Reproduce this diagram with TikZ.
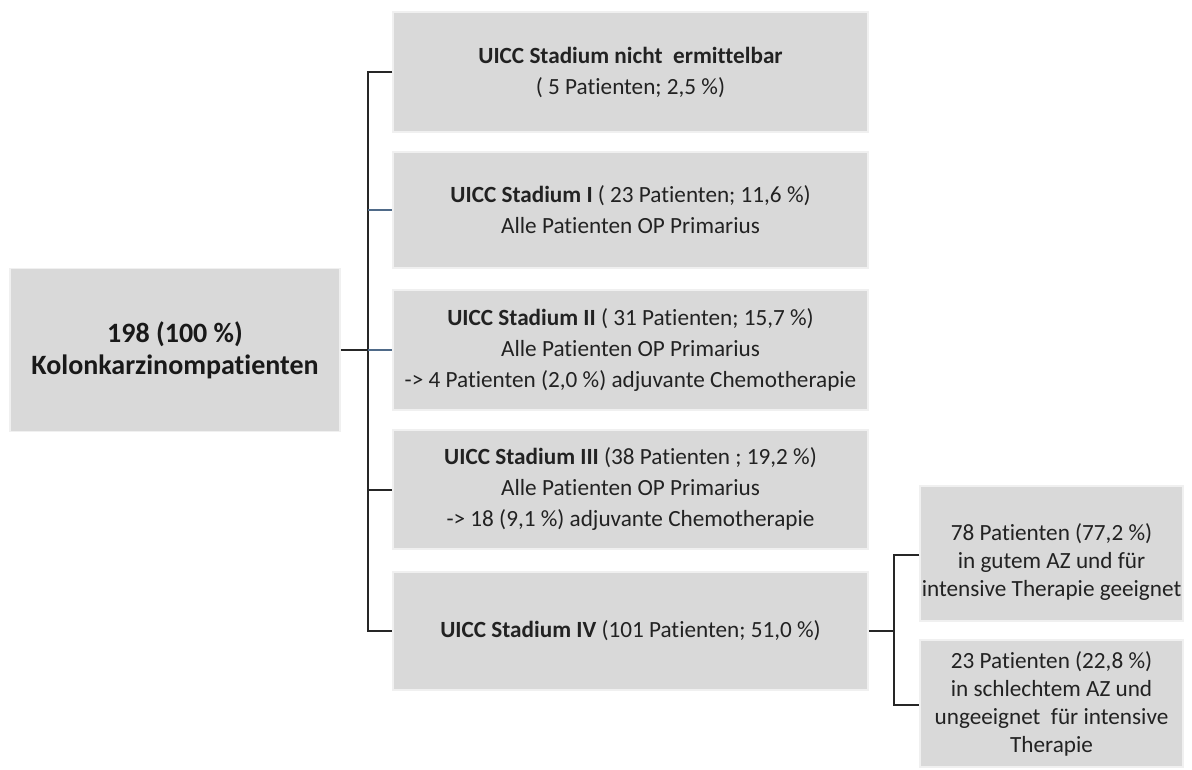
\documentclass[tikz,border=0pt]{standalone}
\usepackage{fontspec}
\setmainfont{Carlito}[Ligatures=CommonOff]
\definecolor{boxgray}{HTML}{D9D9D9}
\definecolor{boxedge}{HTML}{F0F0F0}
\definecolor{bluegray}{HTML}{4F6A88}
\definecolor{txt}{HTML}{222222}
\begin{document}
\begin{tikzpicture}[x=1pt,y=-1pt,
  box/.style={fill=boxgray, draw=boxedge, line width=1.5pt, align=center, inner sep=0pt, text=txt,
    font=\fontsize{23.2}{31}\selectfont},
  stagebox/.style={box, minimum width=475pt},
  subbox/.style={box, minimum width=263pt, font=\fontsize{23.2}{28}\selectfont},
  conn/.style={line width=2pt, black!85},
  bconn/.style={line width=1.5pt, bluegray}]
\useasboundingbox (0,0) rectangle (1192,770);

\node[box, minimum width=330pt, minimum height=163pt, font=\bfseries\fontsize{28}{32}\selectfont, text=black!90] (root) at (175,350) {198 (100 \%)\\Kolonkarzinompatienten};

\node[stagebox, minimum height=120pt] (b1) at (630.5,72) {\textbf{UICC Stadium nicht~ ermittelbar}\\( 5 Patienten; 2,5 \%)};
\node[stagebox, minimum height=116pt] (b2) at (630.5,210) {\textbf{UICC Stadium I} ( 23 Patienten; 11,6 \%)\\Alle Patienten OP Primarius};
\node[stagebox, minimum height=120pt] (b3) at (630.5,350) {\textbf{UICC Stadium II} ( 31 Patienten; 15,7 \%)\\Alle Patienten OP Primarius\\-> 4 Patienten (2,0 \%) adjuvante Chemotherapie};
\node[stagebox, minimum height=119pt] (b4) at (630.5,489.5) {\textbf{UICC Stadium III} (38 Patienten ; 19,2 \%)\\Alle Patienten OP Primarius\\-> 18 (9,1 \%) adjuvante Chemotherapie};
\node[stagebox, minimum height=118pt] (b5) at (630.5,631) {\textbf{UICC Stadium IV} (101 Patienten; 51,0 \%)};

\node[subbox, minimum height=135pt] (s1) at (1051.5,553.5) {\rule{0pt}{33pt}78 Patienten (77,2 \%)\\in gutem AZ und für\\intensive Therapie geeignet};
\node[subbox, minimum height=127pt] (s2) at (1051.5,703.5) {23 Patienten (22,8 \%)\\in schlechtem AZ und\\ungeeignet~ für intensive\\Therapie};

\coordinate (j) at (368,350);
\draw[conn] (root.east) -- (j);
\draw[conn] (b1.west) -- (b1.west -| j) -- (b5.west -| j) -- (b5.west);
\draw[bconn] (b2.west -| j) -- (b2.west);
\draw[bconn] (j) -- (b3.west);
\draw[conn] (b4.west -| j) -- (b4.west);

\coordinate (k) at (894,631);
\coordinate (k1) at (894,555);
\coordinate (k2) at (894,705);
\draw[conn] (b5.east) -- (k);
\draw[conn] (s1.west |- k1) -- (k1) -- (k2) -- (s2.west |- k2);
\end{tikzpicture}
\end{document}
